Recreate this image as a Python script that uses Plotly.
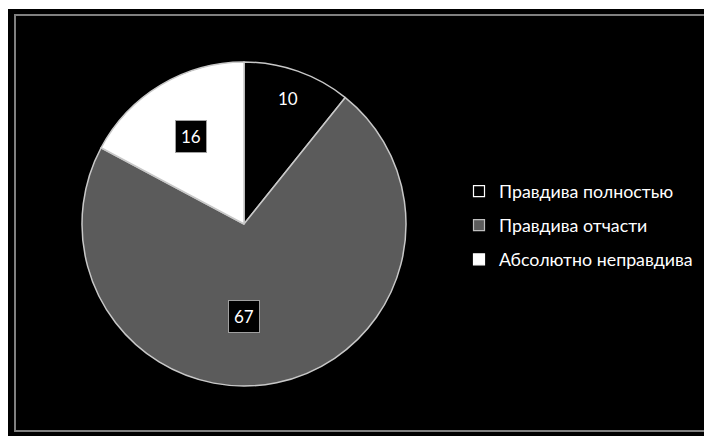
import math
import plotly.graph_objects as go

labels = ["Правдива полностью", "Правдива отчасти", "Абсолютно неправдива"]
values = [10, 67, 16]
colors = ["#000000", "#5b5b5b", "#ffffff"]
legend_line = ["#ffffff", "#bfbfbf", "#ffffff"]
label_radius = [0.82, 0.57, 0.63]
label_along = [0.5, 0.545, 0.5]
label_boxed = [False, True, True]

W, H = 704, 436
cx, cy, R = 244, 224, 162  # pie centre / radius in pixels

fig = go.Figure()
fig.add_trace(go.Pie(
    labels=labels, values=values, sort=False, direction="clockwise", rotation=0,
    marker=dict(colors=colors, line=dict(color="#c8c8c8", width=1.5)),
    textinfo="none", hoverinfo="label+value", showlegend=False,
    domain=dict(x=[(cx - R) / W, (cx + R) / W], y=[1 - (cy + R) / H, 1 - (cy - R) / H]),
))

for i, lab in enumerate(labels):
    fig.add_trace(go.Scatter(
        x=[None], y=[None], mode="markers", name=lab, legendgroup=lab,
        marker=dict(symbol="square", size=11, color=colors[i],
                    line=dict(color=legend_line[i], width=1.2)),
    ))

total = sum(values)
annotations = []
start = 0.0
for v, f, a, boxed in zip(values, label_radius, label_along, label_boxed):
    mid = (start + v * a) / total * 2 * math.pi
    start += v
    px = cx + f * R * math.sin(mid)
    py = cy - f * R * math.cos(mid)
    annotations.append(dict(
        x=px / W, y=1 - py / H, xref="paper", yref="paper", text=str(v),
        xanchor="center", yanchor="middle",
        showarrow=False, font=dict(family="Lato", size=17, color="#ffffff"),
        bgcolor="#000000", bordercolor="#a0a0a0" if boxed else "rgba(0,0,0,0)",
        borderwidth=1, borderpad=5,
    ))

shapes = [
    dict(type="rect", xref="paper", yref="paper", x0=0, x1=1, y0=1 - 9 / H, y1=1.01,
         fillcolor="#ffffff", line=dict(width=0), layer="above"),
    dict(type="rect", xref="paper", yref="paper", x0=-0.01, x1=8 / W, y0=-0.01, y1=1.01,
         fillcolor="#ffffff", line=dict(width=0), layer="above"),
    dict(type="rect", xref="paper", yref="paper", x0=15 / W, x1=1.05,
         y0=1 - 431 / H, y1=1 - 15 / H, fillcolor="rgba(0,0,0,0)",
         line=dict(color="#808080", width=2), layer="below"),
]

fig.update_layout(
    width=W, height=H, margin=dict(l=0, r=0, t=0, b=0),
    paper_bgcolor="#000000", plot_bgcolor="rgba(0,0,0,0)",
    xaxis=dict(visible=False), yaxis=dict(visible=False),
    showlegend=True,
    legend=dict(x=459 / W, y=1 - 173 / H, xanchor="left", yanchor="top",
                font=dict(family="Lato", size=17.8, color="#ffffff"),
                tracegroupgap=8, bgcolor="rgba(0,0,0,0)"),
    annotations=annotations, shapes=shapes,
)

fig.write_html(
    "out.html",
    config={"displayModeBar": False},
    post_script="document.documentElement.style.overflow='hidden';"
                "document.documentElement.style.background='#000000';"
                "document.body.style.margin='0';"
                "document.body.style.overflow='hidden';",
)
